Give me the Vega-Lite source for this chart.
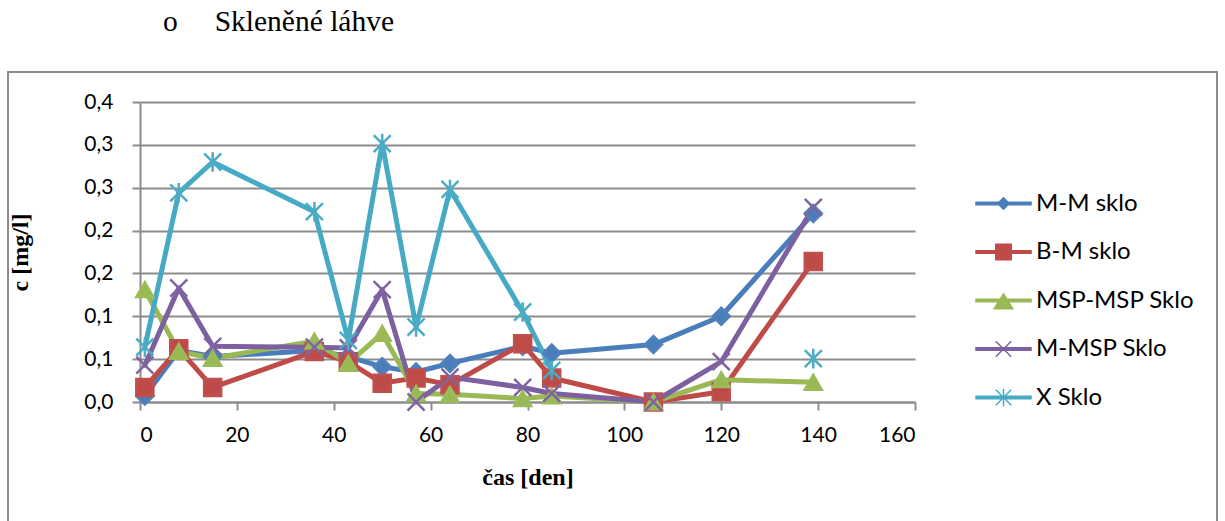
{
  "$schema": "https://vega.github.io/schema/vega-lite/v6.json",
  "autosize": {"type": "none"},
  "padding": {"left": 8, "top": 72, "right": 8, "bottom": 5},
  "width": 1209,
  "height": 470,
  "background": "white",
  "title": {
    "text": "o\u00a0\u00a0\u00a0\u00a0\u00a0Skleněné láhve",
    "anchor": "start",
    "frame": "group",
    "dx": 155,
    "offset": 12,
    "font": "Liberation Serif",
    "fontSize": 29.5,
    "fontWeight": "normal",
    "color": "black",
    "baseline": "alphabetic"
  },
  "config": {
    "view": {"stroke": "#8c8c8c", "strokeWidth": 2},
    "axis": {
      "labelFont": "Lato",
      "labelFontSize": 21,
      "labelColor": "black",
      "tickColor": "#8c8c8c",
      "tickSize": 8,
      "tickWidth": 2,
      "domainColor": "#8c8c8c",
      "domainWidth": 2,
      "gridColor": "#8c8c8c",
      "gridWidth": 2,
      "titleFont": "Liberation Serif",
      "titleFontWeight": "bold",
      "titleFontSize": 24,
      "titleColor": "black"
    }
  },
  "data": {
    "values": [
      {"s": "M-M sklo", "t": 1, "c": 0.007},
      {"s": "M-M sklo", "t": 8, "c": 0.06},
      {"s": "M-M sklo", "t": 15, "c": 0.053},
      {"s": "M-M sklo", "t": 36, "c": 0.06},
      {"s": "M-M sklo", "t": 43, "c": 0.053},
      {"s": "M-M sklo", "t": 50, "c": 0.041},
      {"s": "M-M sklo", "t": 57, "c": 0.035},
      {"s": "M-M sklo", "t": 64, "c": 0.045},
      {"s": "M-M sklo", "t": 79, "c": 0.065},
      {"s": "M-M sklo", "t": 85, "c": 0.057},
      {"s": "M-M sklo", "t": 106, "c": 0.067},
      {"s": "M-M sklo", "t": 120, "c": 0.1},
      {"s": "M-M sklo", "t": 139, "c": 0.22},
      {"s": "B-M sklo", "t": 1, "c": 0.017},
      {"s": "B-M sklo", "t": 8, "c": 0.062},
      {"s": "B-M sklo", "t": 15, "c": 0.017},
      {"s": "B-M sklo", "t": 36, "c": 0.059},
      {"s": "B-M sklo", "t": 43, "c": 0.047},
      {"s": "B-M sklo", "t": 50, "c": 0.022},
      {"s": "B-M sklo", "t": 57, "c": 0.028},
      {"s": "B-M sklo", "t": 64, "c": 0.02},
      {"s": "B-M sklo", "t": 79, "c": 0.068},
      {"s": "B-M sklo", "t": 85, "c": 0.028},
      {"s": "B-M sklo", "t": 106, "c": 0.0},
      {"s": "B-M sklo", "t": 120, "c": 0.012},
      {"s": "B-M sklo", "t": 139, "c": 0.164},
      {"s": "MSP-MSP Sklo", "t": 1, "c": 0.131},
      {"s": "MSP-MSP Sklo", "t": 8, "c": 0.059},
      {"s": "MSP-MSP Sklo", "t": 15, "c": 0.051},
      {"s": "MSP-MSP Sklo", "t": 36, "c": 0.071},
      {"s": "MSP-MSP Sklo", "t": 43, "c": 0.045},
      {"s": "MSP-MSP Sklo", "t": 50, "c": 0.08},
      {"s": "MSP-MSP Sklo", "t": 57, "c": 0.01},
      {"s": "MSP-MSP Sklo", "t": 64, "c": 0.009},
      {"s": "MSP-MSP Sklo", "t": 79, "c": 0.004},
      {"s": "MSP-MSP Sklo", "t": 85, "c": 0.007},
      {"s": "MSP-MSP Sklo", "t": 106, "c": 0.0},
      {"s": "MSP-MSP Sklo", "t": 120, "c": 0.026},
      {"s": "MSP-MSP Sklo", "t": 139, "c": 0.023},
      {"s": "M-MSP Sklo", "t": 1, "c": 0.043},
      {"s": "M-MSP Sklo", "t": 8, "c": 0.133},
      {"s": "M-MSP Sklo", "t": 15, "c": 0.065},
      {"s": "M-MSP Sklo", "t": 36, "c": 0.064},
      {"s": "M-MSP Sklo", "t": 43, "c": 0.063},
      {"s": "M-MSP Sklo", "t": 50, "c": 0.131},
      {"s": "M-MSP Sklo", "t": 57, "c": 0.0},
      {"s": "M-MSP Sklo", "t": 64, "c": 0.029},
      {"s": "M-MSP Sklo", "t": 79, "c": 0.017},
      {"s": "M-MSP Sklo", "t": 85, "c": 0.01},
      {"s": "M-MSP Sklo", "t": 106, "c": 0.0},
      {"s": "M-MSP Sklo", "t": 120, "c": 0.047},
      {"s": "M-MSP Sklo", "t": 139, "c": 0.227},
      {"s": "X Sklo", "t": 1, "c": 0.064},
      {"s": "X Sklo", "t": 8, "c": 0.244},
      {"s": "X Sklo", "t": 15, "c": 0.28},
      {"s": "X Sklo", "t": 36, "c": 0.222},
      {"s": "X Sklo", "t": 43, "c": 0.072},
      {"s": "X Sklo", "t": 50, "c": 0.3015},
      {"s": "X Sklo", "t": 57, "c": 0.0875},
      {"s": "X Sklo", "t": 64, "c": 0.248},
      {"s": "X Sklo", "t": 79, "c": 0.105},
      {"s": "X Sklo", "t": 85, "c": 0.037},
      {"s": "X Sklo", "t": 106, "c": null},
      {"s": "X Sklo", "t": 120, "c": null},
      {"s": "X Sklo", "t": 139, "c": 0.0506}
    ]
  },
  "encoding": {
    "x": {
      "field": "t",
      "type": "quantitative",
      "scale": {"domain": [0, 160], "range": [132, 907], "nice": false, "zero": false},
      "axis": {
        "title": "čas [den]",
        "values": [0, 20, 40, 60, 80, 100, 120, 140, 160],
        "offset": -140,
        "grid": false,
        "labelPadding": 14,
        "titlePadding": 20
      }
    },
    "y": {
      "field": "c",
      "type": "quantitative",
      "scale": {"domain": [0, 0.35], "range": [330, 30], "nice": false, "zero": false},
      "axis": {
        "title": "c [mg/l]",
        "values": [0, 0.05, 0.1, 0.15, 0.2, 0.25, 0.3, 0.35],
        "labelExpr": "replace(format(round(datum.value * 10 + 0.000001) / 10, '.1f'), '.', ',')",
        "offset": -132,
        "grid": true,
        "labelPadding": 19,
        "titlePadding": 51
      }
    }
  },
  "layer": [
    {
      "mark": {"type": "line", "strokeWidth": 5, "strokeJoin": "round", "strokeCap": "round", "invalid": "break-paths-filter-domains", "clip": false},
      "encoding": {
        "color": {
          "field": "s",
          "type": "nominal",
          "scale": {
            "domain": ["M-M sklo", "B-M sklo", "MSP-MSP Sklo", "M-MSP Sklo", "X Sklo"],
            "range": ["#4A7EBB", "#BE4B48", "#98B954", "#7D60A0", "#46AAC5"]
          },
          "legend": {
            "orient": "none",
            "legendX": 967,
            "legendY": 103,
            "title": null,
            "symbolSize": 3025,
            "symbolStrokeWidth": 1.5,
            "labelFont": "Lato",
            "labelFontSize": 24,
            "labelColor": "black",
            "labelOffset": 4,
            "rowPadding": 7.5,
            "encode": {
              "symbols": {
                "update": {
                  "shape": {"signal": "datum.value === 'M-M sklo' ? 'M-1,-0.045L1,-0.045L1,0.045L-1,0.045ZM0,-0.21L0.21,0L0,0.21L-0.21,0Z' : datum.value === 'B-M sklo' ? 'M-1,-0.045L1,-0.045L1,0.045L-1,0.045ZM-0.28,-0.28L0.28,-0.28L0.28,0.28L-0.28,0.28Z' : datum.value === 'MSP-MSP Sklo' ? 'M-1,-0.045L1,-0.045L1,0.045L-1,0.045ZM0,-0.24L0.34,0.3L-0.34,0.3Z' : datum.value === 'M-MSP Sklo' ? 'M-1,-0.045L1,-0.045L1,0.045L-1,0.045ZM-0.28,-0.28L0.28,0.28M0.28,-0.28L-0.28,0.28' : 'M-1,-0.045L1,-0.045L1,0.045L-1,0.045ZM-0.28,-0.28L0.28,0.28M0.28,-0.28L-0.28,0.28M0,-0.32L0,0.32'"},
                  "fill": {"signal": "datum.value === 'M-M sklo' ? '#4A7EBB' : datum.value === 'B-M sklo' ? '#BE4B48' : datum.value === 'MSP-MSP Sklo' ? '#98B954' : datum.value === 'M-MSP Sklo' ? '#7D60A0' : '#46AAC5'"},
                  "stroke": {"signal": "datum.value === 'M-M sklo' ? '#4A7EBB' : datum.value === 'B-M sklo' ? '#BE4B48' : datum.value === 'MSP-MSP Sklo' ? '#98B954' : datum.value === 'M-MSP Sklo' ? '#7D60A0' : '#46AAC5'"},
                  "strokeWidth": {"value": 1.5},
                  "opacity": {"value": 1}
                }
              }
            }
          }
        }
      }
    },
    {
      "transform": [{"filter": {"field": "c", "valid": true}}],
      "mark": {"type": "point", "filled": true, "size": 290, "strokeWidth": 2.5, "opacity": 1, "clip": false},
      "encoding": {
        "color": {"field": "s", "type": "nominal", "legend": null},
        "stroke": {
          "field": "s",
          "type": "nominal",
          "scale": {
            "domain": ["X Sklo", "M-M sklo", "B-M sklo", "MSP-MSP Sklo", "M-MSP Sklo"],
            "range": ["#4BACC6", "#4F81BD", "#C0504D", "#9BBB59", "#8064A2"]
          },
          "legend": null
        },
        "shape": {
          "field": "s",
          "type": "nominal",
          "scale": {
            "domain": ["B-M sklo", "M-M sklo", "MSP-MSP Sklo", "M-MSP Sklo", "X Sklo"],
            "range": ["square", "diamond", "triangle-up", "M-1,-1L1,1M1,-1L-1,1", "M-1,-1L1,1M1,-1L-1,1M0,-1.15L0,1.15"]
          },
          "legend": null
        }
      }
    }
  ]
}
